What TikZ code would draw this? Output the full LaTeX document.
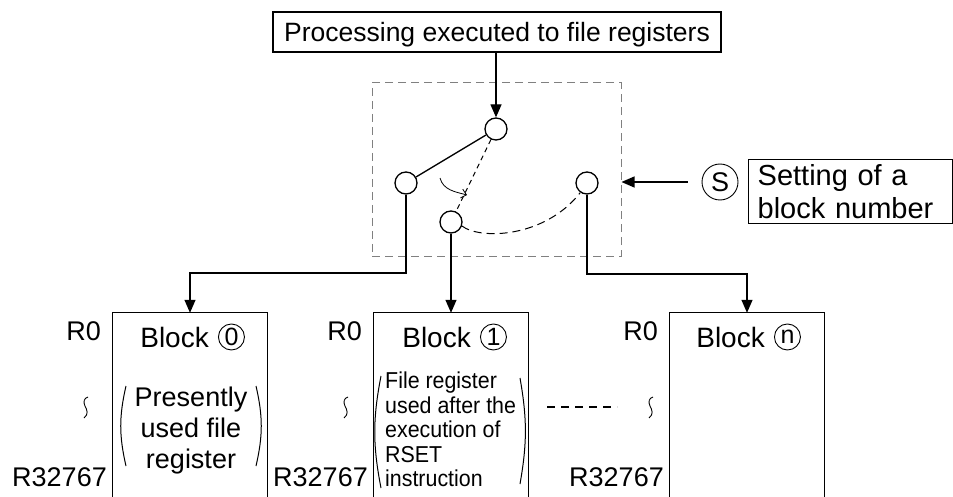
\documentclass[tikz,border=0pt]{standalone}
\usepackage{fontspec}
\setmainfont{Liberation Sans}
\newfontfamily\narrowfont{Liberation Sans}[FakeStretch=0.93]
\usetikzlibrary{arrows.meta, positioning}

\begin{document}
\begin{tikzpicture}[
        x=1pt, y=-1pt,
        font=\fontsize{27}{31}\selectfont,
        wire/.style={line width=1.3pt},
        arr/.style={wire, -{Triangle[length=13pt, width=11pt]}},
        contact/.style={circle, draw, wire, minimum size=22pt, inner sep=0pt},
        selbox/.style={draw=gray, line width=1pt, dash pattern=on 8pt off 5pt},
        blk/.style={minimum width=154pt, minimum height=184pt, inner sep=0pt},
        ttl/.style={anchor=base east, inner sep=0pt, font=\fontsize{28}{32}\selectfont},
        num/.style={circle, draw, line width=0.9pt, minimum size=26pt, inner sep=0pt,
                    font=\fontsize{25}{25}\selectfont},
        reg/.style={anchor=base east, inner sep=0pt},
        paren/.style={line width=1pt},
    ]
    \useasboundingbox (0,0) rectangle (953,497);

    \node[draw, wire, minimum width=448pt, minimum height=40pt, inner sep=0pt, text depth=0pt,
          font=\fontsize{26.5}{30}\selectfont] (proc) at (497,32) {Processing executed to file registers};
    \node[selbox, minimum width=249pt, minimum height=173pt] (sw) at (496.5,169.5) {};
    \node[contact] (ci) at (496,129) {};
    \node[contact] (c0) at (406,183) {};
    \node[contact] (c1) at (451,222) {};
    \node[contact] (cn) at (587,183) {};

    \node[circle, draw, line width=0.9pt, minimum size=36pt, inner sep=0pt] (sym) at (720,182) {S};
    \node[draw, wire, anchor=north west, minimum width=204pt, minimum height=64pt, text width=186pt,
          inner xsep=9pt, inner ysep=0pt, align=left, font=\fontsize{29}{33}\selectfont] (set) at (748,159) {Setting of a\\block number};

    \node[blk] (b0) at (190,405) {};
    \node[blk] (b1) at (451,405) {};
    \node[blk] (bn) at (747,405) {};
    \foreach \b in {b0,b1,bn}
        \draw[wire] (\b.south west) |- (\b.north east) -- (\b.south east);

    \node[ttl] (t0) at (209,347) {Block};
    \node[num, right=9pt of t0] (n0) {0};
    \node[ttl] (t1) at (471,347) {Block};
    \node[num, right=9pt of t1] (n1) {1};
    \node[ttl] (tn) at (765,347) {Block};
    \node[num, right=9pt of tn] (nn) {n};

    \foreach \b/\x/\w in {b0/113/86, b1/374/346, bn/670/651} {
        \node[reg] (\b-first) at ({\x-12},340) {R0};
        \node[reg] (\b-last) at ({\x-6},486) {R32767};
        \draw[line width=0.9pt, shift={(\w,408)}] (2,-11) .. controls (-2,-10) and (-3,-6) .. (-1,-2)
            .. controls (1,2) and (3,6) .. (-2,10);
    }

    \node[anchor=north, align=center, inner sep=0pt] (u0) at (191,387) {Presently\\used file\\register};
    \draw[paren] (126,386) to[bend right=13] (126,466);
    \draw[paren] (256,386) to[bend left=13] (256,466);

    \node[anchor=north west, align=left, inner sep=0pt,
          font=\narrowfont\fontsize{23}{24.5}\selectfont] (u1) at (385,372) {File register\\used after the\\execution of\\RSET\\instruction};
    \draw[paren] (381,376) to[bend right=11] (381,488);
    \draw[paren] (520,378) to[bend left=10] (520,484);

    \coordinate (dl) at (547,407);
    \coordinate (dr) at (617,407);
    \draw[wire, dash pattern=on 8pt off 6pt] (dl) -- (dr);

    \draw[arr] (proc.south -| ci) -- (ci.north);
    \draw[wire] (c0) -- (ci);
    \draw[line width=1pt, dash pattern=on 5pt off 4pt] (ci) -- (c1);
    \draw[line width=1pt, dash pattern=on 8pt off 5pt] (c1.-20) .. controls (480,240) and (545,238) .. (cn.235);
    \coordinate (ta) at (440,178);
    \coordinate (tb) at (467,195);
    \draw[line width=0.8pt, -{Straight Barb[length=5pt, width=9pt]}] (ta) to[out=-75, in=165] (tb);

    \coordinate (k0) at (406,273);
    \coordinate (kn) at (587,274);
    \draw[arr] (c0) -- (k0) -| (b0.north);
    \draw[arr] (c1) -- (b1.north);
    \draw[arr] (cn) -- (kn) -| (bn.north);
    \draw[arr, shorten <=14pt] (sym) -- (sym -| sw.east);
\end{tikzpicture}
\end{document}
